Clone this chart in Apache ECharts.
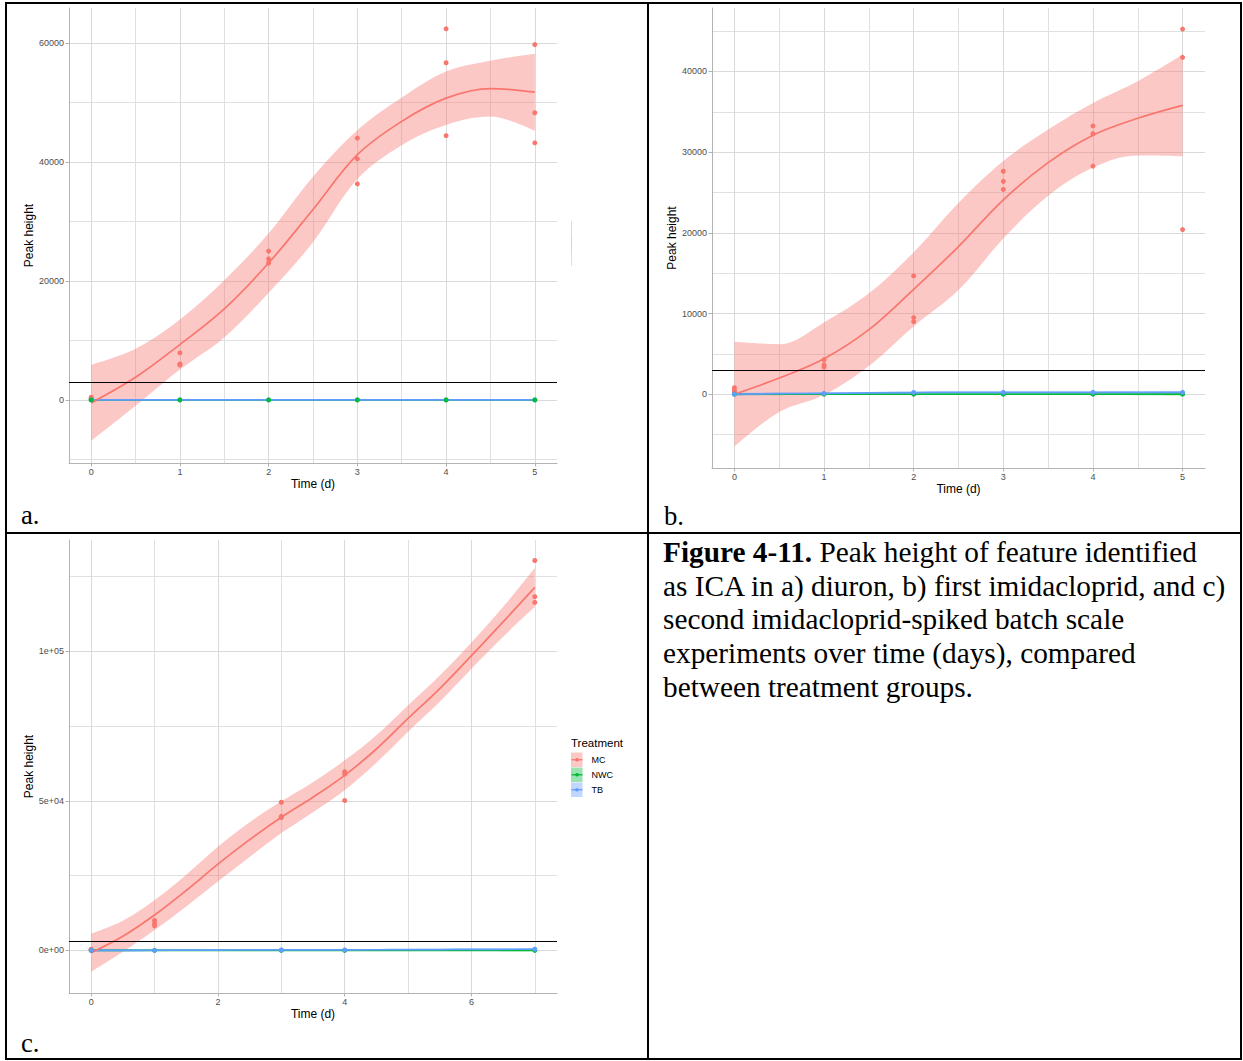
<!DOCTYPE html>
<html><head><meta charset="utf-8">
<script src="https://cdn.jsdelivr.net/npm/echarts@6/dist/echarts.min.js"></script>
<style>
html,body{margin:0;padding:0;background:#fff;width:1243px;height:1061px;overflow:hidden;}
.bd{position:absolute;background:#000;}
.lbl{position:absolute;font-family:'Liberation Serif','Times New Roman',serif;font-size:26.7px;line-height:30px;color:#000;white-space:nowrap;}
#cap{position:absolute;left:663px;top:536px;font-family:'Liberation Serif','Times New Roman',serif;font-size:29.3px;line-height:33.7px;color:#000;white-space:nowrap;}
#chart{position:absolute;left:0;top:0;width:1243px;height:1061px;}
</style></head><body>
<div class="bd" style="left:5px;top:2px;width:1237px;height:2px"></div>
<div class="bd" style="left:5px;top:1058px;width:1237px;height:2px"></div>
<div class="bd" style="left:5px;top:2px;width:2px;height:1058px"></div>
<div class="bd" style="left:1240px;top:2px;width:2px;height:1058px"></div>
<div class="bd" style="left:647px;top:2px;width:2px;height:1058px"></div>
<div class="bd" style="left:5px;top:532px;width:1237px;height:2px"></div>
<div id="chart"></div>
<div class="lbl" style="left:21px;top:500px">a.</div>
<div class="lbl" style="left:664px;top:501px">b.</div>
<div class="lbl" style="left:21px;top:1028px">c.</div>
<div id="cap"><b>Figure 4-11.</b> Peak height of feature identified<br>as ICA in a) diuron, b) first imidacloprid, and c)<br>second imidacloprid-spiked batch scale<br>experiments over time (days), compared<br>between treatment groups.</div>
<script>
// ---------- shared ----------
const TREATMENTS = ['MC', 'NWC', 'TB'];
const THRESHOLD = 3000;

// ---------- panel a (diuron) ----------
const aXTicks = [0, 1, 2, 3, 4, 5];
const aXMinor = [0.5, 1.5, 2.5, 3.5, 4.5];
const aYTicks = [0, 20000, 40000, 60000];
const aYTickLabels = ['0', '20000', '40000', '60000'];
const aYMinor = [-10000, 10000, 30000, 50000];
const aTime = [0, 1, 2, 3, 4, 5];
const aMcTime = [0,0,0, 1,1,1, 2,2,2, 3,3,3, 4,4,4, 5,5,5];
const aMcPeak = [450,250,100, 7900,6050,5850, 25000,23700,23000, 44000,40500,36300, 62350,56650,44400, 59700,48250,43200];
const aNwcPeak = [0, 0, 0, 0, 0, 0];
const aTbPeak = [0, 0, 0, 0, 0, 0];
const aFitTime = [0, 0.5, 1, 1.5, 2, 2.5, 3, 3.5, 4, 4.5, 5];
const aMcFit   = [-500, 3800, 9300, 15300, 23000, 32000, 41200, 46800, 50700, 52300, 51700];
const aMcUpper = [5900, 8600, 13500, 20100, 28000, 37500, 45300, 50800, 55200, 57000, 58150];
const aMcLower = [-6900, -1000, 5100, 10500, 18000, 26500, 37100, 42800, 46200, 47600, 45200];
const aNwcFit   = [0, 0, 0, 0, 0, 0, 0, 0, 0, 0, 0];
const aNwcUpper = [150, 120, 110, 100, 100, 100, 100, 100, 110, 120, 150];
const aNwcLower = [-150, -120, -110, -100, -100, -100, -100, -100, -110, -120, -150];
const aTbFit   = [0, 0, 0, 0, 0, 0, 0, 0, 0, 0, 0];
const aTbUpper = [150, 120, 110, 100, 100, 100, 100, 100, 110, 120, 150];
const aTbLower = [-150, -120, -110, -100, -100, -100, -100, -100, -110, -120, -150];

// ---------- panel b (first imidacloprid) ----------
const bXTicks = [0, 1, 2, 3, 4, 5];
const bXMinor = [0.5, 1.5, 2.5, 3.5, 4.5];
const bYTicks = [0, 10000, 20000, 30000, 40000];
const bYTickLabels = ['0', '10000', '20000', '30000', '40000'];
const bYMinor = [-5000, 5000, 15000, 25000, 35000, 45000];
const bTime = [0, 1, 2, 3, 4, 5];
const bMcTime = [0,0,0, 1,1,1, 2,2,2, 3,3,3, 4,4,4, 5,5,5];
const bMcPeak = [800,500,300, 4270,3640,3360, 14660,9500,9000, 27630,26380,25380, 33250,32280,28270, 45260,41750,20400];
const bNwcPeak = [0, 0, 0, 0, 0, 0];
const bTbPeak = [0, 100, 220, 230, 230, 230];
const bFitTime = [0, 0.5, 1, 1.5, 2, 2.5, 3, 3.5, 4, 4.5, 5];
const bMcFit   = [0, 2000, 4400, 8000, 13000, 18300, 24100, 28700, 32100, 34200, 35800];
const bMcUpper = [6500, 6200, 8900, 12500, 17600, 23700, 28900, 32800, 36100, 38800, 42100];
const bMcLower = [-6500, -2200, -100, 3500, 8400, 12900, 19300, 24600, 28100, 29600, 29500];
const bNwcFit   = [0, 0, 0, 0, 0, 0, 0, 0, 0, 0, 0];
const bNwcUpper = [150, 120, 110, 100, 100, 100, 100, 100, 110, 120, 150];
const bNwcLower = [-150, -120, -110, -100, -100, -100, -100, -100, -110, -120, -150];
const bTbFit   = [0, 60, 110, 160, 200, 220, 230, 230, 230, 230, 230];
const bTbUpper = [180, 200, 230, 270, 310, 330, 340, 340, 340, 350, 380];
const bTbLower = [-180, -80, -10, 50, 90, 110, 120, 120, 120, 110, 80];

// ---------- panel c (second imidacloprid) ----------
const cXTicks = [0, 2, 4, 6];
const cXMinor = [1, 3, 5, 7];
const cYTicks = [0, 50000, 100000];
const cYTickLabels = ['0e+00', '5e+04', '1e+05'];
const cYMinor = [25000, 75000, 125000];
const cTime = [0, 1, 3, 4, 7];
const cMcTime = [0,0,0, 1,1,1, 3,3,3, 4,4,4, 7,7,7];
const cMcPeak = [400,200,0, 10000,9000,8200, 49500,44800,44400, 59700,58900,50100, 130300,118200,116300];
const cNwcPeak = [0, 0, 0, 0, 0];
const cTbPeak = [0, 0, 150, 150, 400];
const cFitTime = [0, 0.5, 1, 1.5, 2, 2.5, 3, 3.5, 4, 4.5, 5, 5.5, 6, 6.5, 7];
const cMcFit   = [-800, 4700, 11800, 20000, 28800, 37000, 44500, 51200, 58500, 67300, 77500, 87500, 98500, 109800, 121300];
const cMcUpper = [5600, 9900, 16800, 25300, 34600, 42800, 49800, 56200, 63500, 71900, 81900, 91900, 102900, 114800, 127800];
const cMcLower = [-7200, -500, 6800, 14700, 23000, 31200, 39200, 46200, 53500, 62700, 73100, 83100, 94100, 104800, 114800];
const cNwcFit   = [0, 0, 0, 0, 0, 0, 0, 0, 0, 0, 0, 0, 0, 0, 0];
const cNwcUpper = [300, 250, 220, 200, 200, 200, 200, 200, 200, 200, 200, 220, 250, 280, 320];
const cNwcLower = [-300, -250, -220, -200, -200, -200, -200, -200, -200, -200, -200, -220, -250, -280, -320];
const cTbFit   = [0, 20, 40, 70, 100, 130, 150, 160, 170, 200, 240, 280, 320, 360, 400];
const cTbUpper = [400, 380, 360, 360, 370, 390, 400, 400, 400, 430, 480, 530, 590, 650, 720];
const cTbLower = [-400, -340, -280, -220, -170, -130, -100, -80, -60, -30, 0, 30, 50, 70, 80];

// ---------- style ----------
const COLORS = { MC: '#F8766D', NWC: '#00BA38', TB: '#619CFF' };
const FILLS = { MC: 'rgba(248,118,109,0.4)', NWC: 'rgba(0,186,56,0.4)', TB: 'rgba(97,156,255,0.4)' };
const FONT = "'Liberation Sans', Arial, sans-serif";
const SMOOTH = 0.35;

const panels = [
  { grid: { left: 69, top: 8, width: 488, height: 455 }, xMin: -0.25, xMax: 5.25, yMin: -10600, yMax: 65850,
    xTicks: aXTicks, xMinor: aXMinor, yTicks: aYTicks, yLabels: aYTickLabels, yMinor: aYMinor,
    time: aTime, mcTime: aMcTime, mcPeak: aMcPeak, nwcPeak: aNwcPeak, tbPeak: aTbPeak,
    fitTime: aFitTime, fits: { MC: [aMcFit, aMcLower, aMcUpper], NWC: [aNwcFit, aNwcLower, aNwcUpper], TB: [aTbFit, aTbLower, aTbUpper] },
    pointOrder: ['MC', 'TB', 'NWC'] },
  { grid: { left: 712, top: 8, width: 493, height: 460 }, xMin: -0.25, xMax: 5.25, yMin: -9150, yMax: 47870,
    xTicks: bXTicks, xMinor: bXMinor, yTicks: bYTicks, yLabels: bYTickLabels, yMinor: bYMinor,
    time: bTime, mcTime: bMcTime, mcPeak: bMcPeak, nwcPeak: bNwcPeak, tbPeak: bTbPeak,
    fitTime: bFitTime, fits: { MC: [bMcFit, bMcLower, bMcUpper], NWC: [bNwcFit, bNwcLower, bNwcUpper], TB: [bTbFit, bTbLower, bTbUpper] },
    pointOrder: ['MC', 'NWC', 'TB'] },
  { grid: { left: 69, top: 540, width: 488, height: 453 }, xMin: -0.35, xMax: 7.35, yMin: -14250, yMax: 137150,
    xTicks: cXTicks, xMinor: cXMinor, yTicks: cYTicks, yLabels: cYTickLabels, yMinor: cYMinor,
    time: cTime, mcTime: cMcTime, mcPeak: cMcPeak, nwcPeak: cNwcPeak, tbPeak: cTbPeak,
    fitTime: cFitTime, fits: { MC: [cMcFit, cMcLower, cMcUpper], NWC: [cNwcFit, cNwcLower, cNwcUpper], TB: [cTbFit, cTbLower, cTbUpper] },
    pointOrder: ['MC', 'NWC', 'TB'] }
];

function pairs(xs, ys) { return xs.map((x, i) => [x, ys[i]]); }

const grids = [], xAxes = [], yAxes = [], series = [];
panels.forEach((p, k) => {
  grids.push(Object.assign({ containLabel: false }, p.grid));
  const yLabelMap = {};
  p.yTicks.forEach((v, i) => { yLabelMap[v] = p.yLabels[i]; });
  xAxes.push({
    gridIndex: k, type: 'value', min: p.xMin, max: p.xMax, position: 'bottom',
    name: 'Time (d)', nameLocation: 'middle', nameGap: 15,
    nameTextStyle: { fontSize: 12, color: '#000', fontFamily: FONT },
    axisLine: { show: true, onZero: false, lineStyle: { color: '#b3b3b3', width: 1 } },
    axisTick: { show: true, length: 3.5, customValues: p.xTicks, lineStyle: { color: '#b3b3b3' } },
    axisLabel: { customValues: p.xTicks, fontSize: 9, color: '#4d4d4d', margin: 4, fontFamily: FONT },
    splitLine: { show: true, lineStyle: { color: '#dadada', width: 1 } }
  });
  yAxes.push({
    gridIndex: k, type: 'value', min: p.yMin, max: p.yMax, position: 'left',
    name: 'Peak height', nameLocation: 'middle', nameGap: 34,
    nameTextStyle: { fontSize: 12, color: '#000', fontFamily: FONT },
    axisLine: { show: true, onZero: false, lineStyle: { color: '#b3b3b3', width: 1 } },
    axisTick: { show: true, length: 3.5, customValues: p.yTicks, lineStyle: { color: '#b3b3b3' } },
    axisLabel: { customValues: p.yTicks, fontSize: 9, color: '#4d4d4d', margin: 5, fontFamily: FONT,
      formatter: v => (yLabelMap[v] !== undefined ? yLabelMap[v] : String(v)) },
    splitLine: { show: true, lineStyle: { color: '#dadada', width: 1 } }
  });
});
// minor-grid overlay axes
panels.forEach((p, k) => {
  xAxes.push({
    gridIndex: k, type: 'value', min: p.xMin, max: p.xMax, position: 'bottom',
    axisLine: { show: false }, axisLabel: { show: false },
    axisTick: { show: false, customValues: p.xMinor },
    splitLine: { show: true, lineStyle: { color: '#e0e0e0', width: 1 } }
  });
  yAxes.push({
    gridIndex: k, type: 'value', min: p.yMin, max: p.yMax, position: 'left',
    axisLine: { show: false }, axisLabel: { show: false },
    axisTick: { show: false, customValues: p.yMinor },
    splitLine: { show: true, lineStyle: { color: '#e0e0e0', width: 1 } }
  });
});

panels.forEach((p, k) => {
  // confidence ribbons: [value, time] so that the stacked dimension is the value (y)
  TREATMENTS.forEach(t => {
    const [fit, lo, hi] = p.fits[t];
    const stackId = 'rib' + k + t;
    series.push({ type: 'line', xAxisIndex: k, yAxisIndex: k, stack: stackId, stackStrategy: 'all',
      dimensions: ['peak', 'time'], encode: { x: 'time', y: 'peak' },
      data: pairs(lo, p.fitTime), symbol: 'none', smooth: SMOOTH, silent: true, z: 1,
      lineStyle: { opacity: 0, width: 0 } });
    series.push({ type: 'line', xAxisIndex: k, yAxisIndex: k, stack: stackId, stackStrategy: 'all',
      dimensions: ['peak', 'time'], encode: { x: 'time', y: 'peak' },
      data: pairs(hi.map((h, i) => h - lo[i]), p.fitTime), symbol: 'none', smooth: SMOOTH, silent: true, z: 1,
      lineStyle: { opacity: 0, width: 0 }, areaStyle: { color: FILLS[t], opacity: 1 } });
  });
  // fitted lines
  ['NWC', 'TB', 'MC'].forEach(t => {
    series.push({ type: 'line', name: t, xAxisIndex: k, yAxisIndex: k, data: pairs(p.fitTime, p.fits[t][0]),
      symbol: 'none', smooth: SMOOTH, silent: true, z: 2,
      lineStyle: { color: COLORS[t], width: 1.7 } });
  });
  // observed points
  const pts = { MC: pairs(p.mcTime, p.mcPeak), NWC: pairs(p.time, p.nwcPeak), TB: pairs(p.time, p.tbPeak) };
  p.pointOrder.forEach((t, j) => {
    series.push({ type: 'scatter', name: t, xAxisIndex: k, yAxisIndex: k, data: pts[t],
      symbolSize: 5, silent: true, z: 3 + j * 0.1, itemStyle: { color: COLORS[t], opacity: 1 } });
  });
  // threshold line
  series.push({ type: 'scatter', xAxisIndex: k, yAxisIndex: k, data: [], silent: true, z: 2.5,
    markLine: { silent: true, symbol: 'none', label: { show: false }, animation: false,
      lineStyle: { color: '#000', width: 1, type: 'solid' }, data: [{ yAxis: THRESHOLD }] } });
});

// legend (panel c) drawn as graphic keys
const legendEls = [
  { type: 'text', left: 571, top: 737, style: { text: 'Treatment', fill: '#000', font: "11.5px 'Liberation Sans', Arial, sans-serif" } }
];
TREATMENTS.forEach((t, i) => {
  const y0 = 752.5 + i * 15;
  legendEls.push({ type: 'rect', shape: { x: 571, y: y0, width: 11.5, height: 14.5 }, style: { fill: FILLS[t] }, silent: true });
  legendEls.push({ type: 'line', shape: { x1: 571.5, y1: y0 + 7.25, x2: 582.5, y2: y0 + 7.25 }, style: { stroke: COLORS[t], lineWidth: 1.3 }, silent: true });
  legendEls.push({ type: 'circle', shape: { cx: 577, cy: y0 + 7.25, r: 1.8 }, style: { fill: COLORS[t] }, silent: true });
  legendEls.push({ type: 'text', x: 591.5, y: y0 + 7.25, style: { text: t, fill: '#000', font: "9px 'Liberation Sans', Arial, sans-serif", verticalAlign: 'middle' }, silent: true });
});
// faint remnant of a clipped legend at right edge of panel a
legendEls.push({ type: 'line', shape: { x1: 571.5, y1: 221, x2: 571.5, y2: 236 }, style: { stroke: 'rgba(248,118,109,0.35)', lineWidth: 1 }, silent: true });
legendEls.push({ type: 'line', shape: { x1: 571.5, y1: 236, x2: 571.5, y2: 251 }, style: { stroke: 'rgba(0,186,56,0.3)', lineWidth: 1 }, silent: true });
legendEls.push({ type: 'line', shape: { x1: 571.5, y1: 251, x2: 571.5, y2: 266 }, style: { stroke: 'rgba(97,156,255,0.3)', lineWidth: 1 }, silent: true });

const chart = echarts.init(document.getElementById('chart'), null, { renderer: 'svg' });
chart.setOption({
  animation: false,
  backgroundColor: 'transparent',
  textStyle: { fontFamily: FONT },
  grid: grids,
  xAxis: xAxes,
  yAxis: yAxes,
  series: series,
  graphic: legendEls
});
</script>
</body></html>
